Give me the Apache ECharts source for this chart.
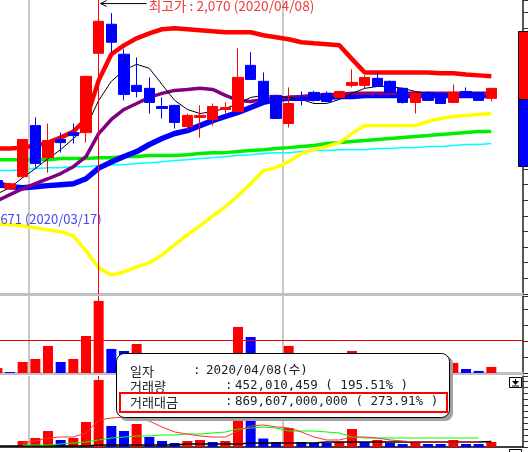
<!DOCTYPE html>
<html>
<head>
<meta charset="utf-8">
<script src="https://cdn.jsdelivr.net/npm/echarts@6.0.0/dist/echarts.min.js"></script>
<style>
html, body { margin: 0; padding: 0; background: #fff; overflow: hidden; }
#wrap { position: relative; width: 528px; height: 452px; overflow: hidden; }
/* 첫 봉이 잘려 보이도록 차트를 왼쪽으로 9px 밀어 둔다 */
#chart { position: absolute; left: -9px; top: 0; width: 537px; height: 452px; }
</style>
</head>
<body>
<div id="wrap"><div id="chart"></div></div>
<script>
// 일자 (거래일)
const dates = [
  '2020/03/27', '2020/03/30', '2020/03/31', '2020/04/01', '2020/04/02', '2020/04/03', '2020/04/06', '2020/04/07',
  '2020/04/08', '2020/04/09', '2020/04/10', '2020/04/13', '2020/04/14', '2020/04/16', '2020/04/17', '2020/04/20',
  '2020/04/21', '2020/04/22', '2020/04/23', '2020/04/24', '2020/04/27', '2020/04/28', '2020/04/29', '2020/05/04',
  '2020/05/06', '2020/05/07', '2020/05/08', '2020/05/11', '2020/05/12', '2020/05/13', '2020/05/14', '2020/05/15',
  '2020/05/18', '2020/05/19', '2020/05/20', '2020/05/21', '2020/05/22', '2020/05/25', '2020/05/26', '2020/05/27'
]
// 빈 칸 (오른쪽 여백)
const padCats = [' ', '  ']

// [시가, 종가, 저가, 고가]
const candles = [
  [925, 880, 861, 937], [873, 905, 866, 912], [950, 1188, 945, 1190], [1277, 1034, 1008, 1329],
  [1072, 1181, 976, 1290], [1188, 1168, 1104, 1232], [1232, 1213, 1162, 1290], [1232, 1592, 1168, 1595],
  [1739, 1944, 1700, 2070], [1925, 1810, 1746, 1996], [1733, 1476, 1438, 1765], [1534, 1495, 1457, 1713],
  [1515, 1425, 1354, 1585], [1399, 1386, 1322, 1457], [1406, 1297, 1258, 1410], [1271, 1342, 1245, 1354],
  [1329, 1342, 1200, 1406], [1316, 1399, 1277, 1418], [1380, 1393, 1354, 1425], [1367, 1585, 1365, 1771],
  [1662, 1572, 1570, 1746], [1560, 1418, 1415, 1617], [1470, 1322, 1320, 1475], [1290, 1418, 1265, 1521],
  [1457, 1438, 1406, 1495], [1489, 1438, 1430, 1500], [1483, 1431, 1425, 1495], [1457, 1495, 1450, 1500],
  [1534, 1553, 1521, 1636], [1534, 1585, 1515, 1598], [1579, 1527, 1525, 1617], [1560, 1489, 1485, 1565],
  [1515, 1425, 1418, 1520], [1425, 1483, 1354, 1488], [1489, 1438, 1435, 1495], [1483, 1418, 1415, 1486],
  [1425, 1489, 1420, 1540], [1495, 1457, 1455, 1521], [1489, 1438, 1435, 1492], [1451, 1515, 1431, 1518]
]

// 가격 지표선
const lineRed = [1130, 1130, 1136, 1149, 1168, 1200, 1239, 1316, 1566, 1733, 1790, 1835, 1867, 1893, 1899, 1893, 1887, 1880, 1874, 1874,
  1874, 1855, 1842, 1829, 1810, 1803, 1797, 1790, 1702, 1617, 1617, 1617, 1617, 1617, 1617, 1611, 1611, 1604, 1598, 1592]
const lineBlack = [841, 880, 944, 1002, 1066, 1123, 1194, 1265, 1438, 1560, 1630, 1669, 1643, 1540, 1438, 1380, 1354, 1367, 1386, 1418,
  1457, 1470, 1463, 1457, 1444, 1418, 1418, 1444, 1483, 1515, 1527, 1527, 1515, 1495, 1483, 1476, 1476, 1483, 1483, null]
const linePurple = [796, 835, 873, 905, 937, 970, 1014, 1079, 1226, 1316, 1380, 1418, 1457, 1483, 1502, 1508, 1515, 1508, 1470, 1438,
  1431, 1444, 1451, 1457, 1463, 1470, 1476, 1476, 1483, 1483, 1483, 1483, 1483, 1483, 1483, 1483, 1483, 1483, 1483, 1483]
const lineBlue = [905, 886, 880, 886, 893, 899, 905, 937, 1005, 1044, 1079, 1111, 1156, 1194, 1226, 1245, 1277, 1309, 1335, 1361,
  1393, 1425, 1444, 1451, 1451, 1457, 1457, 1463, 1463, 1470, 1470, 1470, 1470, 1470, 1470, 1470, 1470, 1470, 1470, 1470]
const lineYellow = [649, 643, 636, 623, 610, 598, 572, 476, 367, 322, 341, 373, 399, 450, 514, 578, 636, 700, 758, 829,
  905, 989, 1008, 1046, 1098, 1123, 1143, 1168, 1226, 1277, 1277, 1277, 1277, 1277, 1303, 1322, 1335, 1342, 1348, 1354]
const lineGreen = [1059, 1059, 1059, 1059, 1059, 1066, 1066, 1066, 1072, 1072, 1079, 1079, 1085, 1085, 1085, 1091, 1098, 1104, 1104, 1111,
  1117, 1123, 1130, 1136, 1143, 1149, 1162, 1168, 1175, 1181, 1188, 1194, 1200, 1207, 1213, 1220, 1226, 1232, 1239, 1239]
const lineCyan = [989, 989, 995, 1002, 1008, 1008, 1014, 1014, 1021, 1027, 1027, 1034, 1040, 1046, 1053, 1059, 1066, 1072, 1079, 1085,
  1091, 1098, 1104, 1104, 1111, 1117, 1117, 1123, 1123, 1123, 1130, 1130, 1136, 1136, 1143, 1143, 1149, 1156, 1156, 1162]

// 거래량 (백만주), 상승 여부
const volume = [31, 6, 69, 88, 170, 69, 88, 232, 452, 151, 138, 182, 88, 56, 39, 60, 68, 48, 57, 289,
  226, 80, 46, 170, 45, 36, 36, 44, 138, 42, 60, 35, 27, 44, 27, 27, 63, 25, 13, 38]
const volUp = [1, 0, 1, 1, 1, 0, 1, 1, 1, 0, 0, 1, 0, 0, 0, 1, 1, 0, 1, 1,
  0, 0, 0, 1, 0, 0, 0, 1, 1, 0, 1, 0, 0, 1, 0, 0, 1, 0, 0, 1]
const volRefLine = 207

// 거래대금 (십억원)
const amount = [8, 5, 78, 117, 208, 91, 117, 325, 870, 273, 208, 299, 130, 78, 52, 78, 91, 65, 78, 467,
  350, 110, 65, 247, 65, 52, 52, 65, 234, 65, 91, 52, 39, 65, 39, 39, 91, 39, 39, 65]
const amountRed = [null, null, 52, 78, 117, 130, 130, 182, 350, 376, 389, 376, 337, 260, 195, 169, 143, 130, 130, 208,
  273, 286, 260, 247, 195, 130, 91, 91, 130, 130, 117, 91, 78, 65, 65, 65, 65, 65, 65, null]
const amountGreen = [null, null, 26, 26, 26, 39, 52, 65, 91, 117, 130, 143, 143, 156, 156, 169, 169, 182, 195, 234,
  247, 260, 247, 208, 208, 208, 195, 182, 130, 117, 117, 117, 117, 117, 117, 117, 117, 117, 117, null]
const amountBlack = [13, 13, 13, 13, 13, 13, 13, 13, 26, 26, 26, 26, 26, 26, 26, 39, 39, 39, 39, 39,
  52, 52, 52, 52, 52, 52, 65, 65, 65, 65, 65, 65, 65, 65, 65, 65, 65, 65, 65, 71]

const highInfo = { date: '2020/04/08', price: 2070, text: '최고가 : 2,070 (2020/04/08)' }
const lowInfo = { price: 671, text: '최저가 : 671 (2020/03/17)' }
const focusDate = '2020/04/08'
const tipRows = [
  ['일자', ':', '2020/04/08(수)'],
  ['거래량', ':', '452,010,459 ( 195.51% )'],
  ['거래대금', ':', '869,607,000,000 ( 273.91% )']
]

const RED = '#ff0000'
const BLUE = '#0000ff'
const OX = 9 // 캔버스가 왼쪽으로 밀린 만큼
const cats = dates.concat(padCats)

const xAxisBase = (gridIndex, lineStyle) => ({
  type: 'category',
  gridIndex,
  data: cats,
  boundaryGap: true,
  axisLabel: { show: false },
  axisTick: { show: false },
  axisLine: { show: true, lineStyle },
  splitLine: {
    show: true,
    interval: (i) => i === 3 || i === 23,
    lineStyle: { color: '#c8c8c8', width: 2 }
  }
})
const yAxisBase = (gridIndex, min, max, interval) => ({
  type: 'value',
  gridIndex,
  position: 'right',
  min, max, interval,
  axisLine: { show: true, lineStyle: { color: '#333', width: 1.5 } },
  axisTick: { show: true, length: 5, lineStyle: { color: '#333' } },
  axisLabel: { show: false },
  splitLine: { show: false }
})
const priceLine = (data, color, width) => ({
  type: 'line', xAxisIndex: 0, yAxisIndex: 0, data,
  symbol: 'none', smooth: false, silent: true,
  lineStyle: { color, width }
})
const focusLine = {
  symbol: 'none', silent: true,
  label: { show: false },
  lineStyle: { color: RED, width: 1, type: 'solid' },
  data: [{ xAxis: focusDate }]
}

const chart = echarts.init(document.getElementById('chart'))
const option = {
  animation: false,
  backgroundColor: '#fff',
  grid: [
    { left: 0, right: 5, top: 0, height: 294 },
    { left: 0, right: 5, top: 296, height: 77 },
    { left: 0, right: 5, top: 376, height: 71 }
  ],
  xAxis: [
    xAxisBase(0, { color: '#c0c0c0', width: 3 }),
    xAxisBase(1, { color: '#c0c0c0', width: 3 }),
    xAxisBase(2, { color: '#000', width: 1.5 })
  ],
  yAxis: [
    yAxisBase(0, 200, 2080, 100),
    yAxisBase(1, 0, 483, 100),
    yAxisBase(2, 0, 922, 78)
  ],
  series: [
    priceLine(lineCyan, '#00ffff', 1.5),
    priceLine(lineGreen, '#00ee00', 3.5),
    priceLine(lineYellow, '#ffff00', 3.5),
    priceLine(lineBlue, BLUE, 5.5),
    priceLine(linePurple, '#800080', 3.5),
    priceLine(lineRed, RED, 4.5),
    priceLine(lineBlack, '#000', 1),
    {
      type: 'candlestick',
      xAxisIndex: 0, yAxisIndex: 0,
      data: candles,
      barWidth: 11,
      z: 5,
      itemStyle: {
        color: RED, color0: BLUE,
        borderColor: RED, borderColor0: BLUE,
        borderWidth: 1
      },
      markLine: focusLine
    },
    {
      type: 'bar',
      xAxisIndex: 1, yAxisIndex: 1,
      barWidth: 10,
      data: volume.map((v, i) => ({ value: v, itemStyle: { color: volUp[i] ? RED : BLUE } })),
      markLine: {
        symbol: 'none', silent: true,
        label: { show: false },
        lineStyle: { color: RED, width: 1, type: 'solid' },
        data: [{ yAxis: volRefLine }, { xAxis: focusDate }]
      }
    },
    {
      type: 'bar',
      xAxisIndex: 2, yAxisIndex: 2,
      barWidth: 10,
      data: amount.map((v, i) => ({ value: v, itemStyle: { color: volUp[i] ? RED : BLUE } })),
      markLine: focusLine
    },
    { type: 'line', xAxisIndex: 2, yAxisIndex: 2, data: amountBlack, symbol: 'none', silent: true, z: 3, lineStyle: { color: '#000', width: 1.5 } },
    { type: 'line', xAxisIndex: 2, yAxisIndex: 2, data: amountGreen, symbol: 'none', silent: true, z: 3, lineStyle: { color: '#00ff00', width: 1.2 } },
    { type: 'line', xAxisIndex: 2, yAxisIndex: 2, data: amountRed, symbol: 'none', silent: true, z: 3, lineStyle: { color: '#ff3030', width: 1 } }
  ]
}
chart.setOption(option)

// 최고가 / 최저가 표시, 정보 박스
const hi = chart.convertToPixel({ xAxisIndex: 0, yAxisIndex: 0 }, [highInfo.date, highInfo.price])
const lo = chart.convertToPixel({ xAxisIndex: 0, yAxisIndex: 0 }, [focusDate, lowInfo.price])
const ay = hi[1] + 2
const tipFont = "'DejaVu Sans Mono', 'Noto Sans CJK KR', monospace"
const tipTexts = []
const rowY = [371, 386, 402]
const colX = [[130, 193, 206], [130, 225, 235], [130, 225, 235]]
tipRows.forEach((row, r) => {
  row.forEach((t, c) => {
    tipTexts.push({
      type: 'text', z: 102,
      style: {
        x: colX[r][c] + OX, y: rowY[r], text: t,
        fill: '#222', font: (c === 0 ? "13px 'Noto Sans CJK KR'" : '12.5px ' + tipFont),
        verticalAlign: 'middle'
      }
    })
  })
})

chart.setOption({
  graphic: [
    { type: 'line', z: 100, shape: { x1: hi[0] + 2, y1: ay, x2: hi[0] + 48, y2: ay }, style: { stroke: '#000', lineWidth: 1 } },
    { type: 'polyline', z: 100, shape: { points: [[hi[0] + 8, ay - 3], [hi[0] + 2, ay], [hi[0] + 8, ay + 3]] }, style: { stroke: '#000', lineWidth: 1, fill: null } },
    { type: 'text', z: 100, style: { x: hi[0] + 50, y: ay + 2, text: highInfo.text, fill: '#f03c3c', font: "13.7px 'Noto Sans CJK KR'", verticalAlign: 'middle' } },
    { type: 'text', z: 100, style: { x: lo[0] + 3, y: lo[1] - 1, text: lowInfo.text, fill: '#4848f0', font: "13px 'Noto Sans CJK KR'", verticalAlign: 'middle', align: 'right' } },
    // 오른쪽 매물대 표시
    { type: 'rect', z: 100, shape: { x: 518.5 + OX, y: 31.5, width: 12, height: 68 }, style: { fill: RED, stroke: '#000', lineWidth: 1 } },
    { type: 'rect', z: 100, shape: { x: 518.5 + OX, y: 99.5, width: 12, height: 67 }, style: { fill: BLUE, stroke: '#000', lineWidth: 1 } },
    // 스크롤 아이콘
    { type: 'rect', z: 100, shape: { x: 509.5 + OX, y: 377.5, width: 12, height: 10 }, style: { fill: '#fff', stroke: '#000', lineWidth: 1 } },
    { type: 'polygon', z: 101, shape: { points: [[512 + OX, 381], [519 + OX, 381], [515.5 + OX, 385]] }, style: { fill: '#000' } },
    { type: 'line', z: 101, shape: { x1: 512 + OX, y1: 386, x2: 519 + OX, y2: 386 }, style: { stroke: '#000', lineWidth: 1 } },
    { type: 'line', z: 101, shape: { x1: 515.5 + OX, y1: 379, x2: 515.5 + OX, y2: 382 }, style: { stroke: '#000', lineWidth: 1 } },
    { type: 'rect', z: 100, shape: { x: 509.5 + OX, y: 449.5, width: 12, height: 8 }, style: { fill: '#fff', stroke: '#000', lineWidth: 1 } },
    // 정보 박스
    { type: 'rect', z: 100, shape: { x: 119 + OX, y: 356, width: 334, height: 65, r: 8 }, style: { fill: '#a0a0a0' } },
    { type: 'rect', z: 101, shape: { x: 116.5 + OX, y: 353.5, width: 333, height: 64, r: 8 }, style: { fill: '#fff', stroke: '#000', lineWidth: 1 } },
    { type: 'rect', z: 103, shape: { x: 120 + OX, y: 393, width: 327, height: 19 }, style: { fill: null, stroke: RED, lineWidth: 2 } }
  ].concat(tipTexts)
})
</script>
</body>
</html>
